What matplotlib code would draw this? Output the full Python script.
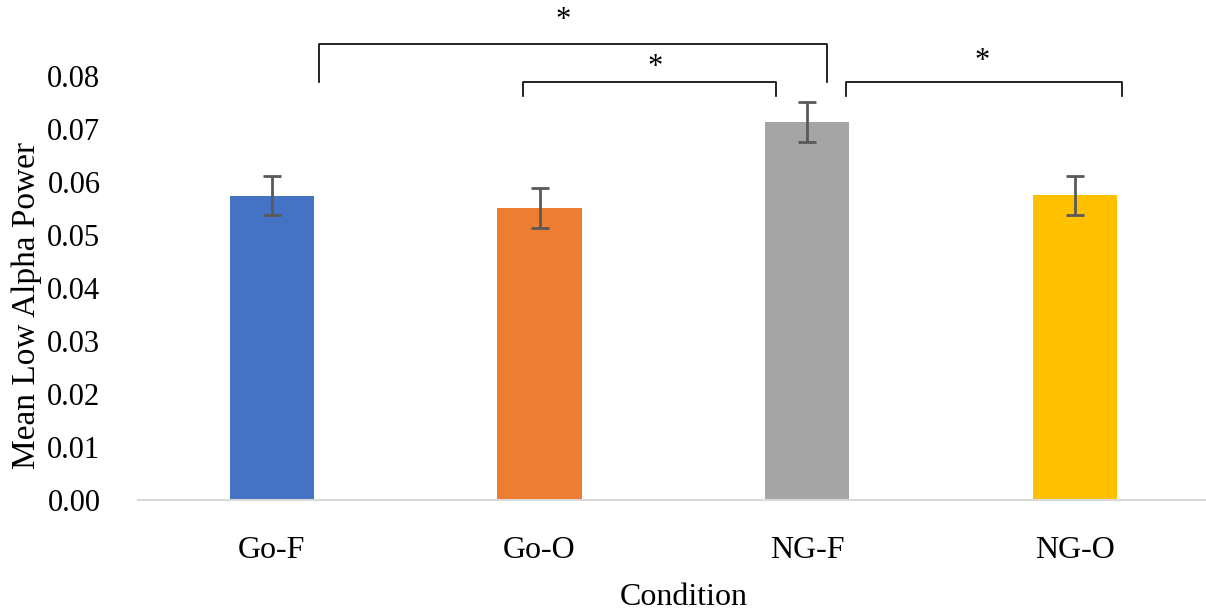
import matplotlib.pyplot as plt
import numpy as np

plt.rcParams['font.family'] = ['Liberation Serif', 'DejaVu Serif']

# Data
conditions = ['Go-F', 'Go-O', 'NG-F', 'NG-O']
means = [0.0574, 0.0551, 0.0713, 0.0575]
errors = [0.0037, 0.0037, 0.0038, 0.0037]
colors = ['#4472C4', '#ED7D31', '#A5A5A5', '#FFC000']

# significance brackets: (x_left, x_right) and (top, left leg bottom, right leg bottom)
brackets_x = [(0.176, 2.073), (0.938, 1.883), (2.144, 3.175)]
brackets_y = [(0.0860, 0.0789, 0.0789), (0.0789, 0.0762, 0.0762), (0.0789, 0.0762, 0.0762)]
stars_xy = [(1.087, 0.0905), (1.431, 0.0816), (2.652, 0.0827)]

fig = plt.figure(figsize=(12.06, 6.13), dpi=100)
ax = fig.add_axes([138 / 1206, 113 / 613, (1206 - 138) / 1206, 424 / 613])

x = np.arange(len(conditions))
ax.bar(x, means, width=0.315, color=colors, zorder=2)
ax.errorbar(x, means, yerr=errors, fmt='none', ecolor='#595959',
            elinewidth=2, capsize=6.5, capthick=2, zorder=3)

ax.set_xlim(-0.5, 3.49)
ax.set_ylim(0, 0.08)
ax.set_yticks(np.arange(0, 0.081, 0.01))
ax.set_yticklabels([f'{v:.2f}' for v in np.arange(0, 0.081, 0.01)], fontsize=22)
ax.set_xticks(x)
ax.set_xticklabels(conditions, fontsize=23)
ax.tick_params(axis='both', length=0)
ax.tick_params(axis='x', pad=26)
ax.tick_params(axis='y', pad=27)

for side in ['top', 'right', 'left']:
    ax.spines[side].set_visible(False)
ax.spines['bottom'].set_color('#D9D9D9')
ax.spines['bottom'].set_linewidth(1.5)

ax.set_xlabel('Condition', fontsize=23)
ax.xaxis.set_label_coords(0.511, -0.195)
ax.set_ylabel('Mean Low Alpha Power', fontsize=24)
ax.yaxis.set_label_coords(-0.090, 0.458)

# brackets
for (xl, xr), (top, bl, br) in zip(brackets_x, brackets_y):
    ax.plot([xl, xl, xr, xr], [bl, top, top, br], color='black', lw=1.2,
            clip_on=False, solid_joinstyle='round')
for sx, sy in stars_xy:
    ax.text(sx, sy, '*', ha='center', va='center', fontsize=22, clip_on=False)

plt.savefig('out.png', dpi=100, facecolor='white')
